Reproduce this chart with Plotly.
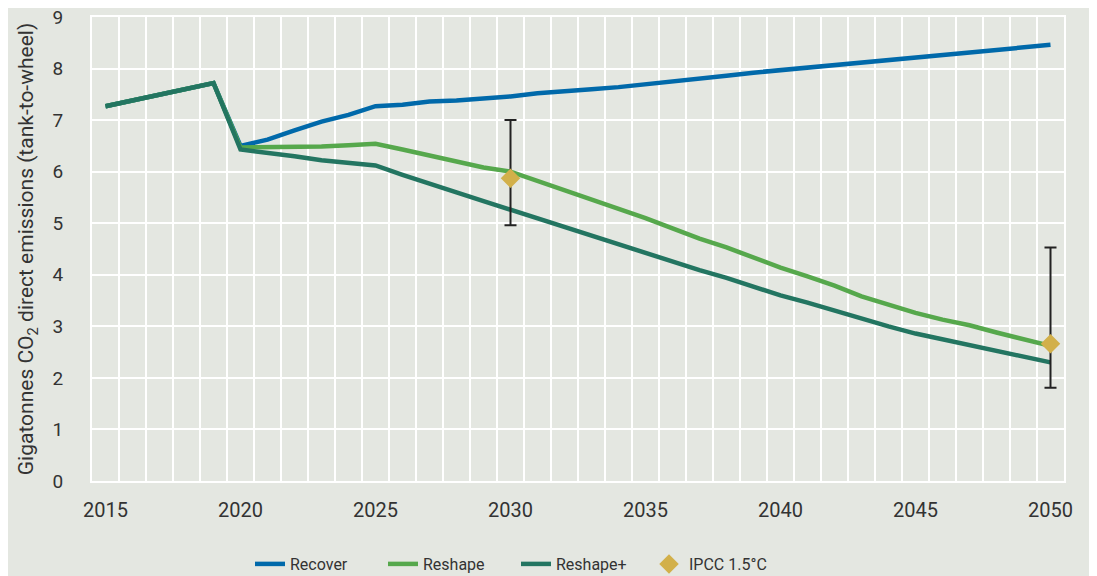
import plotly.graph_objects as go

years = list(range(2015, 2051))

recover = [7.27, 7.38, 7.49, 7.60, 7.72, 6.50, 6.62, 6.80, 6.97, 7.10, 7.27,
           7.30, 7.36, 7.38, 7.41, 7.46, 7.52, 7.55, 7.60, 7.64, 7.69, 7.74,
           7.80, 7.86, 7.92, 7.97, 8.00, 8.06, 8.12, 8.17, 8.20, 8.26, 8.31,
           8.35, 8.40, 8.46]

reshape = [7.27, 7.38, 7.49, 7.60, 7.72, 6.47, 6.47, 6.49, 6.49, 6.51, 6.54,
           6.43, 6.32, 6.20, 6.08, 6.00, 5.82, 5.64, 5.47, 5.27, 5.10, 4.90,
           4.70, 4.53, 4.33, 4.14, 3.97, 3.79, 3.58, 3.42, 3.26, 3.13, 3.02,
           2.88, 2.74, 2.62]

reshape_plus = [7.27, 7.38, 7.49, 7.60, 7.72, 6.43, 6.37, 6.30, 6.22, 6.17, 6.12,
                5.94, 5.76, 5.60, 5.43, 5.26, 5.09, 4.92, 4.76, 4.60, 4.43, 4.26,
                4.09, 3.94, 3.77, 3.60, 3.46, 3.30, 3.15, 3.00, 2.86, 2.75, 2.63,
                2.51, 2.41, 2.30]

ipcc_years = [2030, 2050]
ipcc_mid = [5.87, 2.66]
ipcc_high = [7.0, 4.53]
ipcc_low = [4.96, 1.81]

tick_years = [2015, 2020, 2025, 2030, 2035, 2040, 2045, 2050]

BG = "#e4e7e1"
FONT = "Roboto, 'Open Sans', sans-serif"
TXT = "#333333"

fig = go.Figure()

for name, vals, col in [("Recover", recover, "#0069aa"),
                        ("Reshape", reshape, "#56a84c"),
                        ("Reshape+", reshape_plus, "#237561")]:
    fig.add_trace(go.Scatter(x=years, y=vals, mode="lines", name=name,
                             line=dict(color=col, width=4.5)))

fig.add_trace(go.Scatter(
    x=ipcc_years, y=ipcc_mid, mode="markers", showlegend=False, hoverinfo="skip",
    marker=dict(size=1, opacity=0),
    error_y=dict(type="data", symmetric=False,
                 array=[h - m for h, m in zip(ipcc_high, ipcc_mid)],
                 arrayminus=[m - l for m, l in zip(ipcc_mid, ipcc_low)],
                 color="#222222", thickness=2, width=6)))

fig.add_trace(go.Scatter(
    x=ipcc_years, y=ipcc_mid, mode="markers", name="IPCC 1.5°C",
    marker=dict(symbol="diamond", size=15, color="#d2b04a")))

fig.update_layout(
    width=1089, height=568,
    paper_bgcolor=BG, plot_bgcolor=BG,
    margin=dict(l=84, r=33, t=9, b=95, autoexpand=False),
    font=dict(family=FONT, size=16, color=TXT),
    legend=dict(orientation="h", x=(242 - 84) / 972, xanchor="left",
                y=-83 / 464, yanchor="middle",
                font=dict(size=16, color=TXT), bgcolor="rgba(0,0,0,0)",
                entrywidth=88, entrywidthmode="pixels"),
    xaxis=dict(range=[2014.5, 2050.5], tickmode="array", tickvals=tick_years,
               ticktext=[str(t) for t in tick_years], showgrid=False, zeroline=False,
               ticks="outside", ticklen=10, tickcolor=BG, automargin=False,
               ticklabeloverflow="allow",
               tickfont=dict(size=20, color=TXT),
               showline=True, linecolor="white", linewidth=2, mirror=True,
               minor=dict(tick0=2014.5, dtick=1, showgrid=True, gridcolor="white",
                          gridwidth=2, ticks="")),
    yaxis=dict(range=[0, 9], tickmode="array", tickvals=list(range(0, 10)),
               showgrid=True, gridcolor="white", gridwidth=2,
               zeroline=False, ticks="outside", ticklen=23, tickcolor=BG,
               automargin=False, ticklabeloverflow="allow",
               tickfont=dict(size=19, color=TXT),
               showline=True, linecolor="white", linewidth=2, mirror=True,
               title=dict(text="Gigatonnes CO<sub>2</sub> direct emissions (tank-to-wheel)",
                          font=dict(size=21, color=TXT), standoff=13)),
)

fig.write_html("out.html")
